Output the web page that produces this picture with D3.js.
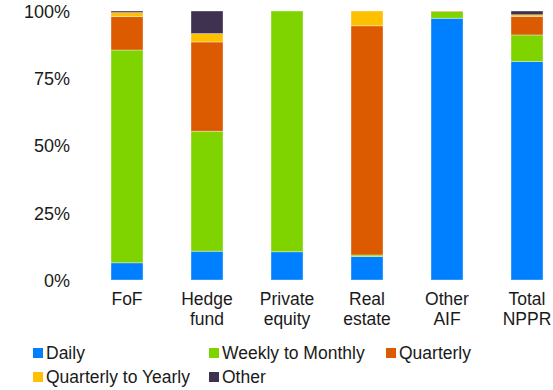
<!DOCTYPE html>
<html><head><meta charset="utf-8">
<script src="https://cdn.jsdelivr.net/npm/d3@7"></script>
<style>body{margin:0;background:#fff}svg{display:block}text{font-family:"Liberation Sans",Arial,sans-serif;fill:#1a1a1a}</style>
</head><body><svg id="c" width="553" height="390"></svg>
<script>
const categories = [["FoF"],["Hedge","fund"],["Private","equity"],["Real","estate"],["Other","AIF"],["Total","NPPR"]];
const seriesNames = ["Daily","Weekly to Monthly","Quarterly","Quarterly to Yearly","Other"];
const daily = [6.4, 10.7, 10.5, 8.7, 97.3, 81.2];
const weeklyMonthly = [79.1, 44.6, 89.5, 0.6, 2.5, 9.9];
const quarterly = [12.4, 33.2, 0, 85.2, 0.2, 6.9];
const quarterlyYearly = [1.5, 3.1, 0, 5.5, 0, 0.6];
const other = [0.6, 8.4, 0, 0, 0, 1.4];
const yTicks = [0, 25, 50, 75, 100];
const colors = ["#007FFF","#7FD400","#DC5A00","#FFC000","#3F3150"];

const svg = d3.select("#c");
const keys = categories.map(c => c.join(" "));
const rows = keys.map((k,i) => ({key:k, s0:daily[i], s1:weeklyMonthly[i], s2:quarterly[i], s3:quarterlyYearly[i], s4:other[i]}));
const stack = d3.stack().keys(["s0","s1","s2","s3","s4"])(rows);

const x = d3.scaleBand().domain(keys).range([87, 567]).paddingInner(0.6).paddingOuter(0.3);
const y = d3.scaleLinear().domain([0,100]).range([280, 11]);

svg.append("g").selectAll("g").data(stack).join("g")
  .attr("fill", (d,i) => colors[i])
  .selectAll("rect").data(d => d).join("rect")
  .attr("x", d => x(d.data.key))
  .attr("width", x.bandwidth())
  .attr("y", d => y(d[1]))
  .attr("height", d => Math.max(0, y(d[0]) - y(d[1])))
  .attr("stroke", "rgba(255,255,255,0.45)")
  .attr("stroke-width", 0.8);

// y axis
const yAxis = d3.axisLeft(y).tickValues(yTicks).tickFormat(d => d + "%").tickSize(0).tickPadding(0);
const gy = svg.append("g").attr("transform","translate(70,0)").call(yAxis);
gy.select(".domain").remove();
gy.selectAll("text").attr("font-size", 18).attr("font-family", '"Liberation Sans",Arial,sans-serif').attr("fill","#1a1a1a").attr("dy","0.35em");

// x axis labels
const xAxis = d3.axisBottom(x).tickSize(0).tickFormat("");
const gx = svg.append("g").attr("transform","translate(0,280)").call(xAxis);
gx.select(".domain").remove();
gx.selectAll(".tick").each(function(d,i){
  const t = d3.select(this).append("text").attr("text-anchor","middle").attr("font-size",17.5).attr("fill","#1a1a1a");
  categories[i].forEach((line,j) => t.append("tspan").attr("x",0).attr("y", 25 + j*20).text(line));
});

// legend
const legendPos = [[33,353],[209,353],[386,353],[33,377],[209,377]];
const lg = svg.append("g");
seriesNames.forEach((n,i) => {
  const [lx,ly] = legendPos[i];
  lg.append("rect").attr("x",lx).attr("y",ly-5).attr("width",10).attr("height",10).attr("fill",colors[i]);
  lg.append("text").attr("x",lx+13).attr("y",ly).attr("dy","0.35em").attr("font-size",17.5).text(n);
});
</script></body></html>
